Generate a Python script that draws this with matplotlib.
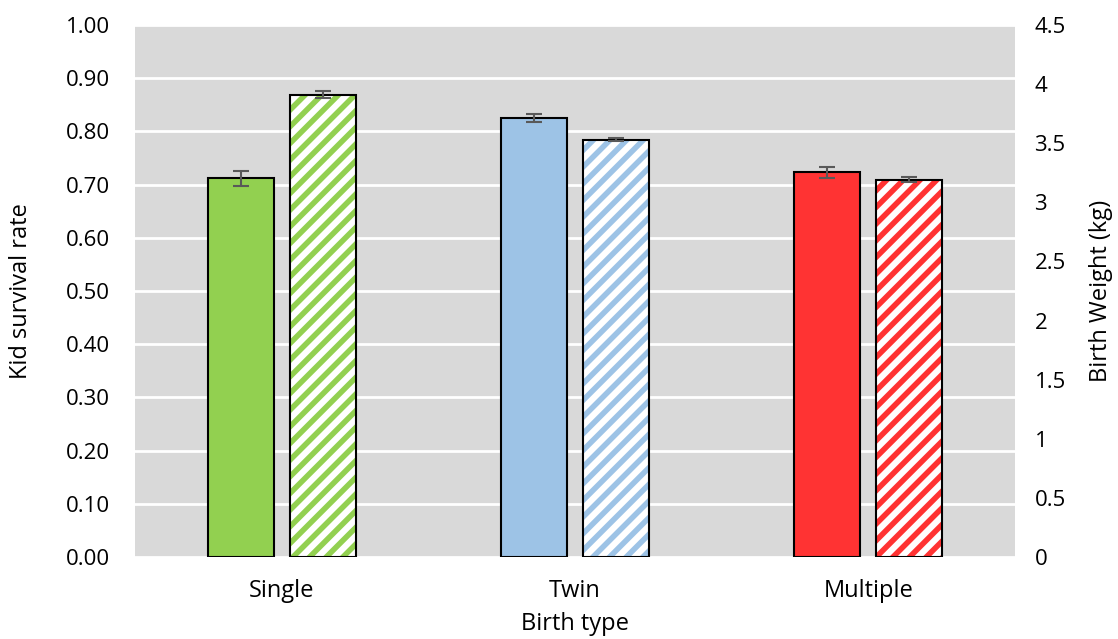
import matplotlib
matplotlib.use('Agg')
import matplotlib.pyplot as plt
import numpy as np

# data
birth_types = ['Single', 'Twin', 'Multiple']
survival = [0.712, 0.825, 0.723]
survival_err = [0.014, 0.007, 0.011]
weight = [3.91, 3.53, 3.19]
weight_err = [0.03, 0.013, 0.021]
colors = ['#92D050', '#9DC3E6', '#FF3333']

plt.rcParams['font.family'] = ['Open Sans', 'DejaVu Sans']
plt.rcParams['hatch.linewidth'] = 4

fig = plt.figure(figsize=(11.18, 6.39), dpi=100)
ax = fig.add_axes([0.1208, 0.1283, 0.7871, 0.8326])
ax2 = ax.twinx()

index = np.arange(len(birth_types))
bar_width = 0.225
offset = 0.14

ax.set_facecolor('#D9D9D9')
ax.set_axisbelow(True)
ax.yaxis.grid(True, color='white', linewidth=2)

# solid bars: survival rate
ax.bar(index - offset, survival, bar_width, color=colors,
       edgecolor='black', linewidth=1.5, zorder=2)
ax.errorbar(index - offset, survival, yerr=survival_err, fmt='none',
            ecolor='#595959', elinewidth=1.5, capsize=6, capthick=1.5, zorder=3)

# hatched bars: birth weight on right axis
ax2.bar(index + offset, weight, bar_width, color='white',
        edgecolor=colors, hatch='//', linewidth=0, zorder=2)
ax2.bar(index + offset, weight, bar_width, fill=False,
        edgecolor='black', linewidth=1.5, zorder=3)
ax2.errorbar(index + offset, weight, yerr=weight_err, fmt='none',
             ecolor='#595959', elinewidth=1.5, capsize=6, capthick=1.5, zorder=4)

ax.set_xlim(-0.5, 2.5)
ax.set_ylim(0, 1.0)
ax2.set_ylim(0, 4.5)
ax.set_yticks(np.arange(0, 1.01, 0.1))
ax.set_yticklabels(['%.2f' % v for v in np.arange(0, 1.01, 0.1)])
ax2.set_yticks(np.arange(0, 4.51, 0.5))
ax2.set_yticklabels(['0', '0.5', '1', '1.5', '2', '2.5', '3', '3.5', '4', '4.5'])
ax.set_xticks(index)
ax.set_xticklabels(birth_types)

for a in (ax, ax2):
    for s in a.spines.values():
        s.set_visible(False)
    a.tick_params(length=0, labelsize=16, colors='black')
ax.tick_params(axis='y', pad=18)
ax2.tick_params(axis='y', pad=14)
ax.tick_params(axis='x', pad=16, labelsize=17)

ax.set_ylabel('Kid survival rate', fontsize=17)
ax2.set_ylabel('Birth Weight (kg)', fontsize=17)
ax.set_xlabel('Birth type', fontsize=17)
ax.yaxis.set_label_coords(-0.116, 0.5)
ax2.yaxis.set_label_coords(1.084, 0.5)
ax.xaxis.set_label_coords(0.5, -0.103)

fig.savefig('out.png', dpi=100)
